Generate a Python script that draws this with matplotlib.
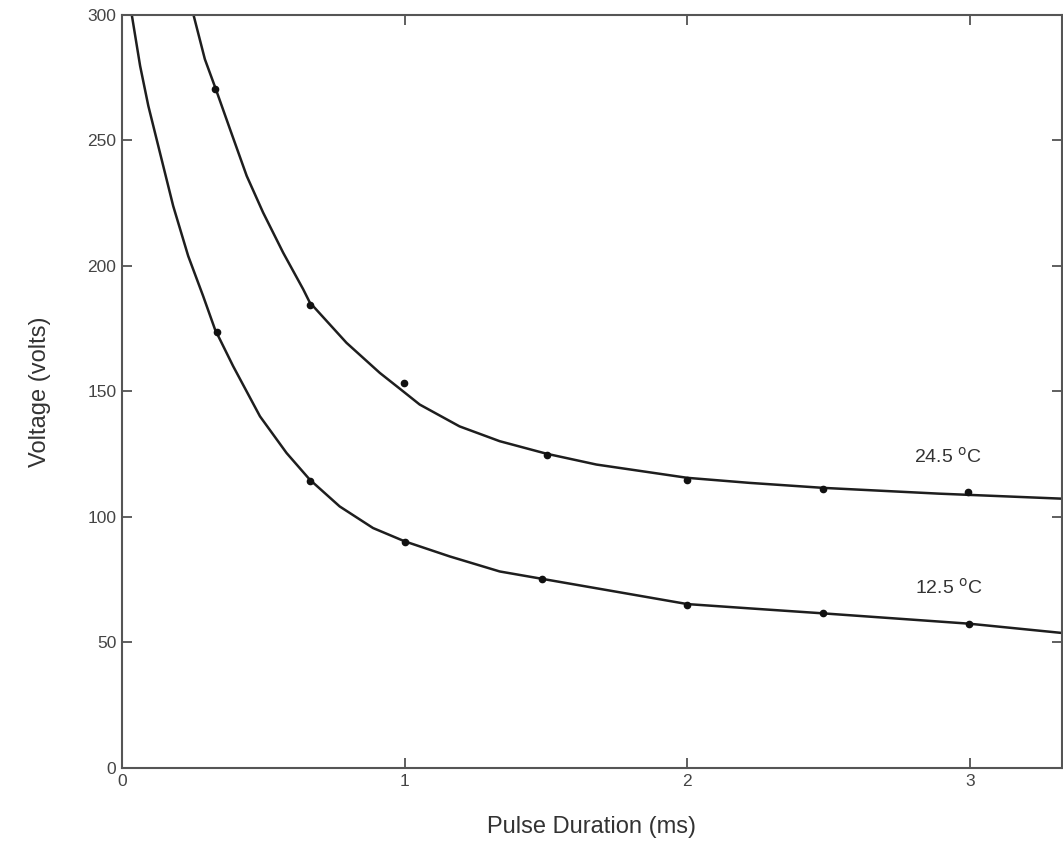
import numpy as np
import matplotlib
matplotlib.use('Agg')
import matplotlib.pyplot as plt

plt.rcParams['font.family'] = ['Liberation Sans', 'DejaVu Sans']

# measured points (ms, volts)
t_hot = [0.329, 0.664, 0.996, 1.502, 2.0, 2.481, 2.993]
v_hot = [270.4, 184.3, 153.2, 124.5, 114.9, 111.3, 110.1]
t_cold = [0.336, 0.664, 1.0, 1.484, 2.0, 2.481, 2.996]
v_cold = [173.9, 114.5, 90.1, 75.4, 65.0, 61.8, 57.4]

# fitted curves
fit_t_hot = [0.252, 0.293, 0.332, 0.382, 0.441, 0.499, 0.570, 0.641, 0.664, 0.794,
             0.912, 0.994, 1.053, 1.194, 1.336, 1.502, 1.678, 2.0, 2.219, 2.481,
             2.89, 3.325]
fit_v_hot = [300.4, 282.4, 270.4, 254.5, 235.9, 221.3, 205.3, 190.7, 185.5, 169.4,
             157.4, 150.1, 144.8, 136.1, 130.2, 125.2, 120.9, 115.6, 113.6, 111.6,
             109.3, 107.3]
fit_t_cold = [0.034, 0.064, 0.093, 0.134, 0.181, 0.234, 0.287, 0.329, 0.393, 0.488,
              0.582, 0.664, 0.770, 0.888, 1.0, 1.159, 1.336, 1.484, 1.75, 2.0,
              2.219, 2.481, 2.996, 3.325]
fit_v_cold = [300.4, 279.7, 263.8, 245.2, 223.9, 204.0, 188.0, 174.7, 160.1, 140.1,
              125.5, 114.9, 104.2, 95.6, 90.3, 84.3, 78.3, 75.4, 70.2, 65.3,
              63.6, 61.6, 57.5, 53.8]

fig = plt.figure(figsize=(10.63, 8.52), dpi=100)
ax = fig.add_axes([0.1148, 0.0986, 0.8842, 0.8838])

ax.plot(fit_t_hot, fit_v_hot, color='#1e1e1e', lw=1.8)
ax.plot(fit_t_cold, fit_v_cold, color='#1e1e1e', lw=1.8)
ax.plot(t_hot, v_hot, 'o', color='#111111', ms=4.5)
ax.plot(t_cold, v_cold, 'o', color='#111111', ms=4.5)

ax.text(2.92, 124.0, '24.5 $^{\\mathrm{o}}$C', fontsize=14, color='#333333', ha='center', va='center')
ax.text(2.926, 71.8, '12.5 $^{\\mathrm{o}}$C', fontsize=14, color='#333333', ha='center', va='center')

ax.set_xlim(0, 3.325)
ax.set_ylim(0, 300)
ax.set_xticks([0, 1, 2, 3])
ax.set_yticks([0, 50, 100, 150, 200, 250, 300])
ax.tick_params(direction='in', length=7, width=1.2, top=True, right=True,
               labelsize=12.5, labelcolor='#444444', color='#444444', pad=4)
for s in ax.spines.values():
    s.set_color('#555555')
    s.set_linewidth(1.5)

ax.set_xlabel('Pulse Duration (ms)', fontsize=17, color='#333333', labelpad=20)
ax.set_ylabel('Voltage (volts)', fontsize=17, color='#333333', labelpad=26)

fig.savefig('out.png', dpi=100)
